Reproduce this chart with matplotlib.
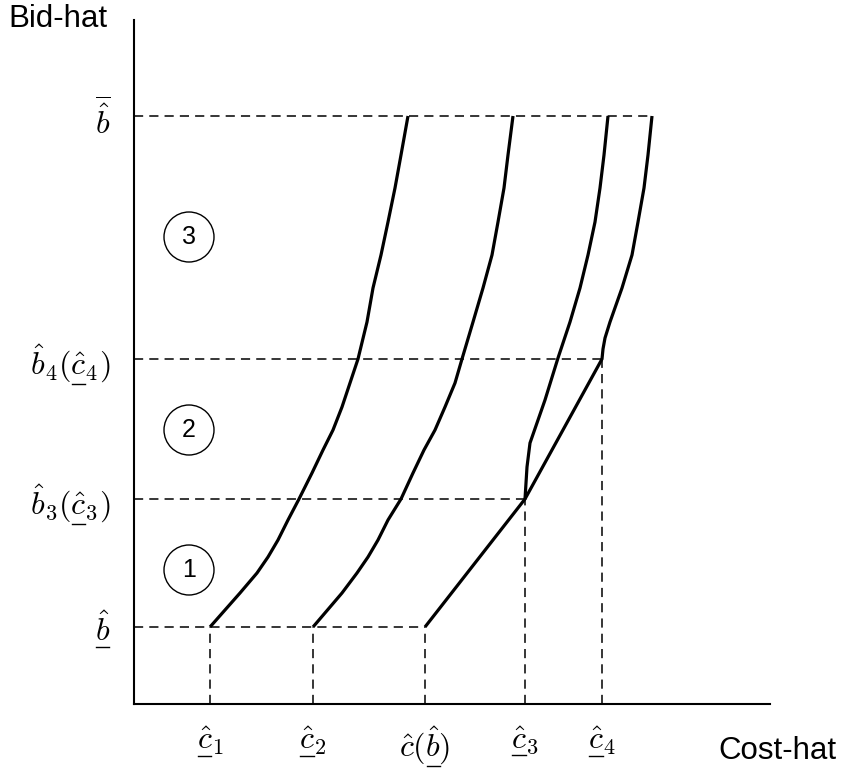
import matplotlib
matplotlib.use("Agg")
from matplotlib import pyplot as plt
from matplotlib.patches import Circle
from matplotlib.lines import Line2D
from matplotlib.transforms import IdentityTransform

# tick positions (cost-hat / bid-hat axes, arbitrary units)
costTicks = [76, 179, 291, 391, 468]
costLabels = [r"$\hat{c}_1$", r"$\hat{c}_2$", r"$\hat{c}(\hat{b})$",
              r"$\hat{c}_3$", r"$\hat{c}_4$"]
# (prefix before underlined part, underlined part) -- mathtext has no \underline
costUnder = [("", r"\hat{c}"), ("", r"\hat{c}"), (r"\hat{c}(", r"\hat{b}"),
             ("", r"\hat{c}"), ("", r"\hat{c}")]
bidTicks = [77, 205, 345, 588]
bidLabels = [r"$\hat{b}$", r"$\hat{b}_3(\hat{c}_3)$",
             r"$\hat{b}_4(\hat{c}_4)$", r"$\overline{\hat{b}}$"]
bidUnder = [("", r"\hat{b}"), (r"\hat{b}_3(", r"\hat{c}"),
            (r"\hat{b}_4(", r"\hat{c}"), None]

# bid functions
curve1Cost = [76, 106, 123, 134, 144, 154, 165, 178, 189, 199, 208, 216, 224,
              233, 239, 247, 254, 261, 267, 274]
curve1Bid = [77, 111, 131, 147, 164, 184, 205, 231, 254, 274, 297, 321, 345,
             382, 416, 449, 482, 516, 549, 588]
curve2Cost = [179, 208, 223, 234, 244, 254, 267, 279, 290, 301, 311, 321, 328,
              339, 349, 358, 364, 370, 374, 379]
curve2Bid = [77, 111, 131, 147, 164, 184, 205, 231, 254, 274, 297, 321, 345,
             382, 416, 449, 482, 516, 549, 588]
curve3Cost = [291, 391, 393, 396, 411, 424, 436, 446, 454, 461, 466, 470, 474]
curve3Bid = [77, 205, 237, 261, 304, 346, 382, 416, 449, 482, 516, 549, 588]
curve4Cost = [391, 468, 469, 471, 476, 488, 498, 504, 510, 514, 518]
curve4Bid = [205, 345, 355, 366, 382, 416, 449, 482, 516, 549, 588]

# dashed guide lengths
hGuideEnds = [291, 391, 468, 518]
vGuideTops = [77, 77, 77, 205, 345]

# region markers
regionNames = ["1", "2", "3"]
regionCost = [55, 55, 55]
regionBid = [134, 274, 467]

plt.rcParams["mathtext.fontset"] = "cm"
plt.rcParams["font.family"] = ["Liberation Sans", "DejaVu Sans"]

LABEL_SIZE = 23

fig = plt.figure(figsize=(8.41, 7.71), dpi=100)
ax = fig.add_axes([134 / 841, 67 / 771, 636 / 841, 684 / 771])
ax.set_xlim(0, 636)
ax.set_ylim(0, 684)

for side in ["top", "right"]:
    ax.spines[side].set_visible(False)
for side in ["left", "bottom"]:
    ax.spines[side].set_linewidth(1.5)

dash = (0, (6, 4))
for b, xe in zip(bidTicks, hGuideEnds):
    ax.plot([0, xe], [b, b], color="black", lw=1.1, linestyle=dash)
for c, yt in zip(costTicks, vGuideTops):
    ax.plot([c, c], [0, yt], color="black", lw=1.1, linestyle=dash)

for xs, ys in [(curve1Cost, curve1Bid), (curve2Cost, curve2Bid),
               (curve3Cost, curve3Bid), (curve4Cost, curve4Bid)]:
    ax.plot(xs, ys, color="black", lw=2.3, solid_joinstyle="round",
            solid_capstyle="butt")

for name, cx, cy in zip(regionNames, regionCost, regionBid):
    ax.add_patch(Circle((cx, cy), 25, fill=False, lw=1.0, color="black"))
    ax.text(cx, cy, name, ha="center", va="center", fontsize=18)

ax.set_xticks(costTicks)
ax.set_xticklabels(costLabels, fontsize=LABEL_SIZE)
ax.set_yticks(bidTicks)
ax.set_yticklabels(bidLabels, fontsize=LABEL_SIZE)
ax.tick_params(axis="x", length=0, pad=15)
ax.tick_params(axis="y", length=0, pad=17)

fig.text(8 / 841, 1 - 27 / 771, "Bid-hat", fontsize=22.5, va="baseline", ha="left")
fig.text(718 / 841, 1 - 759 / 771, "Cost-hat", fontsize=22.5, va="baseline", ha="left")

# draw the underlines by hand
renderer = fig.canvas.get_renderer()


def textWidth(s):
    if not s:
        return 0.0
    t = fig.text(0, 0, "$" + s + "$", fontsize=LABEL_SIZE)
    w = t.get_window_extent(renderer).width
    t.remove()
    return w


def underline(label, spec, dy):
    if spec is None:
        return
    pre, part = spec
    bb = label.get_window_extent(renderer)
    x0 = bb.x0 + textWidth(pre) + 1
    x1 = bb.x0 + textWidth(pre + part) - 1
    fig.add_artist(Line2D([x0, x1], [bb.y0 + dy, bb.y0 + dy], color="black",
                          lw=1.0, transform=IdentityTransform()))


fig.canvas.draw()
for lab, spec in zip(ax.get_xticklabels(), costUnder):
    underline(lab, spec, 1)
for lab, spec in zip(ax.get_yticklabels(), bidUnder):
    underline(lab, spec, 1)

fig.savefig("out.png", dpi=100)
